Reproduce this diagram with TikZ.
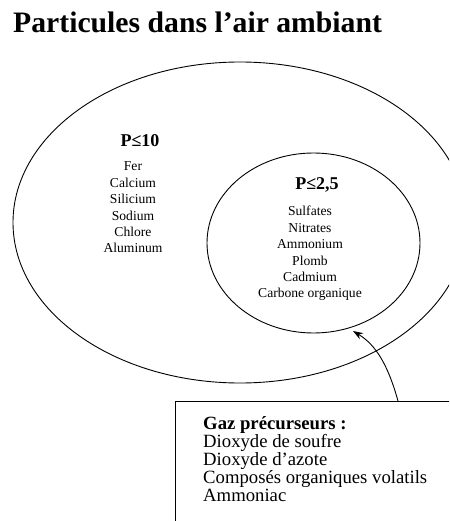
\documentclass[tikz,border=0pt]{standalone}
\usepackage{fontspec}
\setmainfont{Liberation Serif}
\usetikzlibrary{arrows.meta,shapes.geometric,calc}
\begin{document}
\begin{tikzpicture}[x=1pt,y=-1pt,
  line/.style={draw=black,line width=0.9pt},
  heading/.style={font=\bfseries\fontsize{18}{20}\selectfont,inner sep=0pt},
  listtext/.style={font=\fontsize{13.6}{16.4}\selectfont,align=center,inner sep=0pt},
  boxtext/.style={font=\fontsize{18.7}{18.2}\selectfont,align=left,inner sep=0pt,anchor=west}]
\useasboundingbox (0,0) rectangle (449,521);
\clip (0,0) rectangle (449,521);
\node[font=\bfseries\fontsize{29.7}{31}\selectfont,anchor=base west,inner sep=0pt] (title) at (13,33) {Particules dans l’air ambiant};
\node[ellipse,line,minimum width=454pt,minimum height=321pt,inner sep=0pt] (outer) at (240,222.5) {};
\node[ellipse,line,minimum width=213pt,minimum height=180pt,inner sep=0pt] (inner) at (313.5,243) {};
\node[heading] (p10) at (140,141) {P≤10};
\node[listtext] (list10) at (133,207.5) {Fer\\Calcium\\Silicium\\Sodium\\Chlore\\Aluminum};
\node[heading] (p25) at (317,185) {P≤2,5};
\node[listtext] (list25) at (310,253.5) {Sulfates\\Nitrates\\Ammonium\\Plomb\\Cadmium\\Carbone organique};
\node[line,rectangle,minimum width=300pt,minimum height=140pt,anchor=north west,inner sep=0pt] (box) at (175,401) {};
\node[boxtext] (gaz) at (203,459) {\textbf{Gaz précurseurs :}\\Dioxyde de soufre\\Dioxyde d’azote\\Composés organiques volatils\\Ammoniac};
\coordinate (start) at ($(box.north west)+(223,0)$);
\coordinate (tip) at (353,331);
\draw[line,-{Stealth[length=10pt,width=7pt]}] (start) .. controls (388,365) and (376,345) .. (tip);
\end{tikzpicture}
\end{document}
